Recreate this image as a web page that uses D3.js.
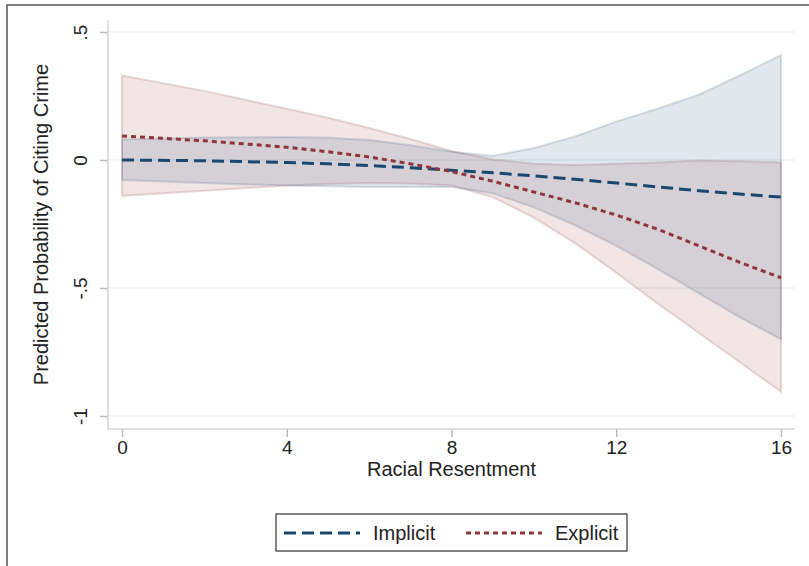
<!DOCTYPE html>
<html>
<head>
<meta charset="utf-8">
<script src="https://cdn.jsdelivr.net/npm/d3@7"></script>
<style>
  body { margin: 0; background: #fff; }
  svg { display: block; font-family: "Liberation Sans", Arial, sans-serif; }
</style>
</head>
<body>
<div id="root"></div>
<script>
// racial resentment values
const xs = [0, 2, 4, 5, 6, 7, 8, 9, 10, 11, 12, 13, 14, 15, 16]

// Implicit: estimate and 95% CI
const implicitFit   = [0, -0.003, -0.01, -0.015, -0.022, -0.03, -0.04, -0.05, -0.062, -0.075, -0.09, -0.105, -0.12, -0.133, -0.145]
const implicitUpper = [0.08, 0.088, 0.09, 0.087, 0.078, 0.058, 0.032, 0.016, 0.047, 0.092, 0.15, 0.2, 0.255, 0.33, 0.41]
const implicitLower = [-0.078, -0.09, -0.1, -0.103, -0.105, -0.105, -0.105, -0.13, -0.185, -0.255, -0.335, -0.425, -0.52, -0.615, -0.7]

// Explicit: estimate and 95% CI
const explicitFit   = [0.094, 0.075, 0.05, 0.032, 0.012, -0.015, -0.045, -0.083, -0.125, -0.167, -0.215, -0.27, -0.335, -0.4, -0.46]
const explicitUpper = [0.33, 0.27, 0.2, 0.165, 0.125, 0.082, 0.035, 0.002, -0.015, -0.02, -0.015, -0.01, -0.002, -0.005, -0.01]
const explicitLower = [-0.14, -0.12, -0.1, -0.094, -0.09, -0.092, -0.1, -0.145, -0.225, -0.325, -0.44, -0.56, -0.675, -0.79, -0.905]

const xTicks = [0, 4, 8, 12, 16]
const yTicks = [-1, -0.5, 0, 0.5]
const yTickLabels = ["-1", "-.5", "0", ".5"]

const w = 809, h = 566
const plot = {left: 108, right: 795, top: 20, bottom: 429}

const x = d3.scaleLinear().domain([0, 16]).range([122, 781])
const y = d3.scaleLinear().domain([-1, 0.5]).range([416, 32])

const svg = d3.select("#root").append("svg")
    .attr("width", w)
    .attr("height", h)

// outer frame
svg.append("rect")
    .attr("x", 7).attr("y", 5)
    .attr("width", 810).attr("height", 570)
    .attr("fill", "none")
    .attr("stroke", "#555")
    .attr("stroke-width", 1.5)

// gridlines
svg.append("g").selectAll("line").data(yTicks).enter().append("line")
    .attr("x1", plot.left).attr("x2", plot.right)
    .attr("y1", d => y(d)).attr("y2", d => y(d))
    .attr("stroke", "#e3eef0")
    .attr("stroke-width", 1.2)

const series = [
    {name: "Implicit", fit: implicitFit, upper: implicitUpper, lower: implicitLower,
     color: "#1a476f", fill: "rgba(26,71,111,0.13)", edge: "rgba(26,71,111,0.16)", dash: "12,6", width: 3},
    {name: "Explicit", fit: explicitFit, upper: explicitUpper, lower: explicitLower,
     color: "#90353b", fill: "rgba(144,53,59,0.13)", edge: "rgba(144,53,59,0.18)", dash: "5,4", width: 3}
]

const area = d3.area()
    .x((d, i) => x(xs[i]))
    .y0((d, i) => y(d.lo))
    .y1((d, i) => y(d.hi))

const line = d3.line()
    .x((d, i) => x(xs[i]))
    .y(d => y(d))

// CI bands (explicit underneath, implicit on top)
series.slice().reverse().forEach(s => {
    const band = xs.map((v, i) => ({lo: s.lower[i], hi: s.upper[i]}))
    svg.append("path")
        .datum(band)
        .attr("d", d => area(d) + "Z")
        .attr("fill", s.fill)
        .attr("stroke", s.edge)
        .attr("stroke-width", 2)
})

// fitted lines
series.forEach(s => {
    svg.append("path")
        .datum(s.fit)
        .attr("d", line)
        .attr("fill", "none")
        .attr("stroke", s.color)
        .attr("stroke-width", s.width)
        .attr("stroke-dasharray", s.dash)
})

//axes
const xAxis = svg.append("g")
    .attr("transform", `translate(0,${plot.bottom})`)
    .call(d3.axisBottom(x).tickValues(xTicks).tickSize(8).tickPadding(4).tickSizeOuter(0))
xAxis.select(".domain").remove()
xAxis.attr("font-size", null).attr("font-family", null)
xAxis.selectAll(".tick line").attr("stroke", "#bbb").attr("stroke-width", 1.5)
xAxis.selectAll(".tick text").attr("font-size", 19).attr("fill", "#222")

const yAxis = svg.append("g")
    .attr("transform", `translate(${plot.left},0)`)
    .call(d3.axisLeft(y).tickValues(yTicks).tickSize(8).tickSizeOuter(0)
        .tickFormat((d, i) => yTickLabels[i]))
yAxis.select(".domain").remove()
yAxis.attr("font-size", null).attr("font-family", null)
yAxis.selectAll(".tick line").attr("stroke", "#bbb").attr("stroke-width", 1.5)
yAxis.selectAll(".tick text")
    .attr("font-size", 19).attr("fill", "#222")
    .attr("x", 0).attr("dy", 0)
    .attr("text-anchor", "middle")
    .attr("transform", "translate(-21,0) rotate(-90)")

svg.append("line")
    .attr("x1", plot.left).attr("x2", plot.right)
    .attr("y1", plot.bottom).attr("y2", plot.bottom)
    .attr("stroke", "#d4d4d4").attr("stroke-width", 1.5)
svg.append("line")
    .attr("x1", plot.left).attr("x2", plot.left)
    .attr("y1", plot.top).attr("y2", plot.bottom)
    .attr("stroke", "#d4d4d4").attr("stroke-width", 1.5)

// axis titles
svg.append("text")
    .attr("x", x(8)).attr("y", 476)
    .attr("text-anchor", "middle")
    .attr("font-size", 20)
    .attr("fill", "#222")
    .text("Racial Resentment")

svg.append("text")
    .attr("transform", `translate(48,${(plot.top + plot.bottom) / 2}) rotate(-90)`)
    .attr("text-anchor", "middle")
    .attr("font-size", 20)
    .attr("fill", "#222")
    .text("Predicted Probability of Citing Crime")

// legend
const legend = svg.append("g")
legend.append("rect")
    .attr("x", 276).attr("y", 514)
    .attr("width", 351).attr("height", 37)
    .attr("fill", "#fff")
    .attr("stroke", "#333")
    .attr("stroke-width", 1.2)

const legendX = [284, 466]
series.forEach((s, i) => {
    legend.append("line")
        .attr("x1", legendX[i]).attr("x2", legendX[i] + 76)
        .attr("y1", 533).attr("y2", 533)
        .attr("stroke", s.color)
        .attr("stroke-width", s.width)
        .attr("stroke-dasharray", s.dash)
    legend.append("text")
        .attr("x", legendX[i] + 89).attr("y", 540)
        .attr("font-size", 20)
        .attr("fill", "#222")
        .text(s.name)
})
</script>
</body>
</html>
